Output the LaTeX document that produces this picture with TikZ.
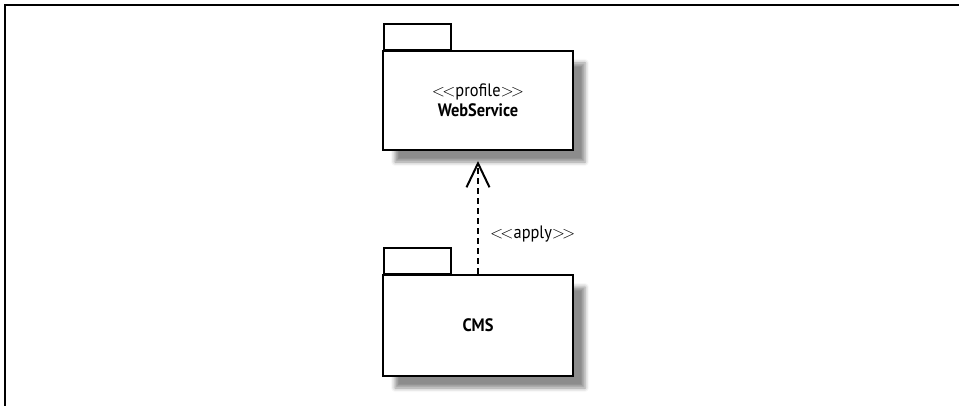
\documentclass[tikz,border=0pt]{standalone}
\usepackage{fontspec}
\setmainfont{PT Sans}[FakeStretch=0.91]
\usetikzlibrary{arrows.meta,shadows.blur}
\newcommand{\guil}[1]{$<\!<$#1$>\!>$}
\begin{document}
\begin{tikzpicture}[x=1pt,y=-1pt,
  frame/.style={line width=2pt,draw=black},
  pkgbody/.style={draw=black,line width=2pt,fill=white,rectangle,inner sep=0pt,
    minimum width=190pt,align=center,font=\fontsize{18}{20}\selectfont,
    blur shadow={shadow xshift=12pt,shadow yshift=-12pt,shadow blur radius=4pt,shadow opacity=45}},
  pkgtab/.style={draw=black,line width=2pt,fill=white,rectangle,inner sep=0pt,
    minimum width=67pt,minimum height=26pt},
  lbl/.style={font=\fontsize{18}{20}\selectfont,inner sep=0pt}]
\useasboundingbox (0,0) rectangle (959,406);
\draw[frame] (5,406) coordinate (fb) -- (5,5) coordinate (fc) -- (959,5) coordinate (fr);
% WebService package
\node[pkgtab, anchor=south west] (wstab) at (383,51) {};
\node[pkgbody, minimum height=99pt] (ws) at (478,100.5)
  {\guil{profile}\\\textbf{WebService}};
% CMS package
\node[pkgtab, anchor=south west] (cmstab) at (383,275) {};
\node[pkgbody, minimum height=101pt] (cms) at (478,325.5) {\textbf{CMS}};
% dependency
\draw[line width=2pt,dash pattern=on 6pt off 4pt,
  -{Straight Barb[length=24pt,width=23pt,line width=2pt]},shorten >=10pt]
  (cms.north) -- (ws.south);
\node[lbl, anchor=west] (apply) at (490,234) {\guil{apply}};
\end{tikzpicture}
\end{document}
